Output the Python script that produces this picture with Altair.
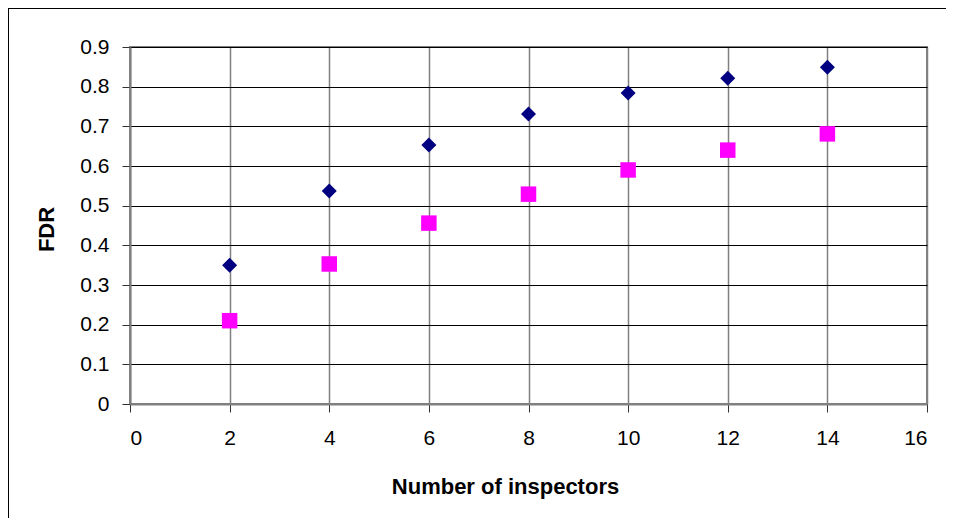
import altair as alt
import pandas as pd

inspectors = [2, 4, 6, 8, 10, 12, 14]
fdr_diamond = [0.350, 0.537, 0.653, 0.731, 0.784, 0.821, 0.849]
fdr_square = [0.210, 0.353, 0.456, 0.529, 0.590, 0.640, 0.681]
x_ticks = [0, 2, 4, 6, 8, 10, 12, 14, 16]
y_ticks = [0, 0.1, 0.2, 0.3, 0.4, 0.5, 0.6, 0.7, 0.8, 0.9]

df = pd.DataFrame({
    "n": inspectors + inspectors,
    "fdr": fdr_diamond + fdr_square,
    "series": ["A"] * len(inspectors) + ["B"] * len(inspectors),
})

FONT = "Liberation Sans"
W, H = 797, 357
PL, PT, PR, PB = 122, 39, 19, 114

x_enc = alt.X(
    "n:Q",
    scale=alt.Scale(domain=[0, 16], nice=False, zero=False),
    axis=alt.Axis(
        values=x_ticks, title="Number of inspectors", grid=True,
        gridColor="#808080", gridWidth=1.5, gridOpacity=1,
        domainColor="#808080", domainWidth=2,
        tickColor="#333333", tickSize=8, tickWidth=1,
        labelFont=FONT, labelFontSize=21, labelColor="black", labelPadding=15,
        titleFont=FONT, titleFontSize=22, titleFontWeight="bold", titleColor="black",
        titleX=375, titleY=82, titleAnchor="start", titleAlign="center", titleBaseline="middle",
    ),
)
y_enc = alt.Y(
    "fdr:Q",
    scale=alt.Scale(domain=[0, 0.9], nice=False, zero=False),
    axis=alt.Axis(
        values=y_ticks, format=".1~f", title="FDR", grid=True, labelOverlap=False,
        gridColor="black", gridWidth=1, gridOpacity=1,
        domainColor="#808080", domainWidth=2,
        tickColor="#333333", tickSize=8, tickWidth=1,
        labelFont=FONT, labelFontSize=21, labelColor="black", labelPadding=13,
        titleFont=FONT, titleFontSize=22, titleFontWeight="bold", titleColor="black",
        titleX=-84, titleY=182, titleAnchor="start", titleAlign="center", titleBaseline="middle",
        titleAngle=270,
    ),
)

points = alt.Chart(df).mark_point(filled=True, opacity=1).encode(
    x=x_enc,
    y=y_enc,
    shape=alt.Shape("series:N", scale=alt.Scale(domain=["A", "B"], range=["diamond", "square"]), legend=None),
    color=alt.Color("series:N", scale=alt.Scale(domain=["A", "B"], range=["#000080", "#FF00FF"]), legend=None),
    size=alt.Size("series:N", scale=alt.Scale(domain=["A", "B"], range=[225, 240]), legend=None),
)

one = pd.DataFrame({"a": [0]})
top_border = alt.Chart(one).mark_rule(color="black", strokeWidth=1).encode(
    x=alt.value(-PL), x2=alt.value(W + PR), y=alt.value(-PT + 0.5)
)
left_border = alt.Chart(one).mark_rule(color="black", strokeWidth=1).encode(
    x=alt.value(-PL + 0.5), y=alt.value(-PT), y2=alt.value(H + PB)
)

chart = alt.layer(points, top_border, left_border).properties(
    width=W, height=H,
    padding={"left": PL, "top": PT, "right": PR, "bottom": PB},
    autosize=alt.AutoSizeParams(type="none"),
    background="white",
).configure_view(stroke="#808080", strokeWidth=2)

chart.save("out.html", embed_options={"renderer": "svg", "actions": False})
